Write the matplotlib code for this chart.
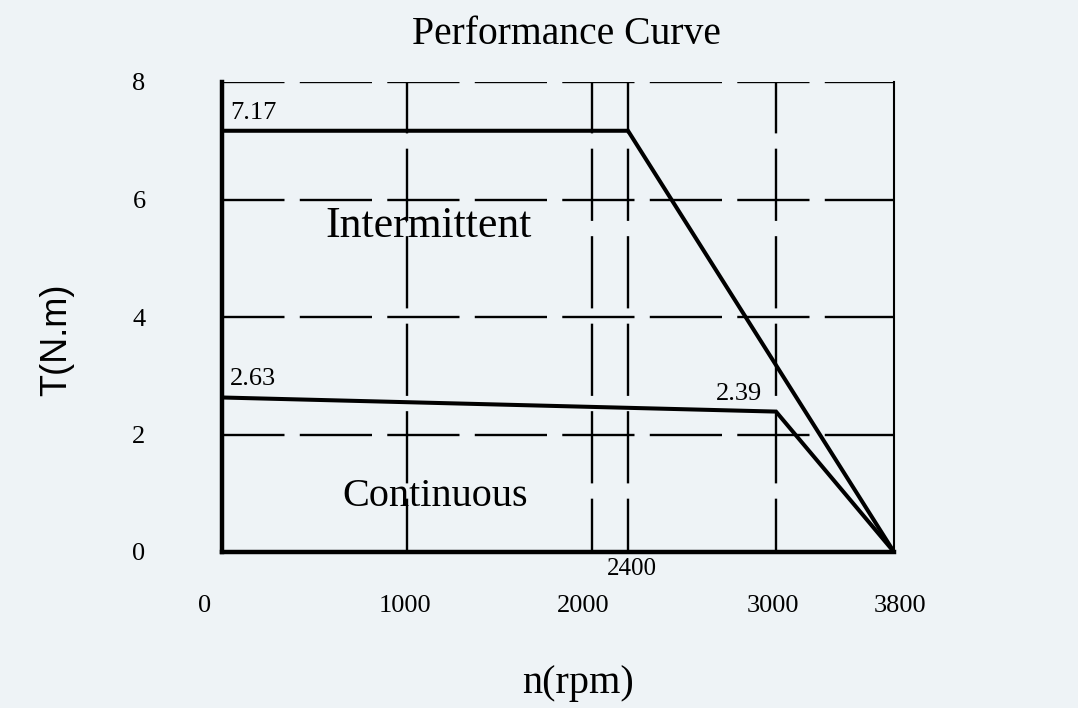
import numpy as np
import matplotlib
matplotlib.use('Agg')
import matplotlib.pyplot as plt

# --- data ---
inter_rpm = [0, 2400, 3800]
inter_torque = [7.17, 7.17, 0]
cont_rpm = [0, 3000, 3800]
cont_torque = [2.63, 2.39, 0]

grid_rpm = [1000, 2000, 2400, 3000]
grid_torque = [2, 4, 6, 8]
y_ticks = [0, 2, 4, 6, 8]
x_labels = [0, 1000, 2000, 3000, 3800]

# the drawing's rpm axis is schematic (not linear): grid spacing in px
knot_rpm = [0, 1000, 2000, 2400, 3000, 3800]
knot_px = [0, 185, 370, 406, 554, 672]

def fwd(x):
    return np.interp(x, knot_rpm, knot_px)

def inv(p):
    return np.interp(p, knot_px, knot_rpm)

BG = '#eef3f6'
SERIF = 'Liberation Serif'
plt.rcParams['lines.scale_dashes'] = False

fig = plt.figure(figsize=(10.78, 7.08), dpi=100, facecolor=BG)
ax = fig.add_axes([222/1078, 1 - 552/708, 672/1078, 470/708], facecolor=BG)
ax.set_xscale('function', functions=(fwd, inv))
ax.set_xlim(0, 3800)
ax.set_ylim(0, 8)

# dashed grid
for y in grid_torque:
    ax.plot([0, 3800], [y, y], color='k', lw=1.7,
            linestyle=(7, (52, 11)), zorder=1)
for x in grid_rpm:
    ax.plot([x, x], [8, 0], color='k', lw=1.7,
            linestyle=(15, (52, 11)), zorder=1)

# curves
ax.plot(inter_rpm, inter_torque, color='k', lw=2.9, zorder=3,
        solid_joinstyle='miter')
ax.plot(cont_rpm, cont_torque, color='k', lw=2.9, zorder=3,
        solid_joinstyle='miter')

# spines
ax.spines['top'].set_visible(False)
ax.spines['left'].set_linewidth(3.2)
ax.spines['bottom'].set_linewidth(3.2)
ax.spines['right'].set_linewidth(1.5)
for s in ax.spines.values():
    s.set_zorder(4)

ax.set_xticks([])
ax.set_yticks(y_ticks)
ax.set_yticklabels([str(v) for v in y_ticks], family=SERIF, fontsize=19)
ax.tick_params(axis='y', length=0, pad=55)

# x labels drawn under the axis with the drawing's nudges
x_nudge = [-17, -2, -9, -3, 6]
for v, dx in zip(x_labels, x_nudge):
    ax.annotate(str(v), xy=(v, 0), xytext=(dx, -54), textcoords='offset pixels',
                ha='center', va='center', family=SERIF, fontsize=19,
                annotation_clip=False)
ax.annotate('2400', xy=(2400, 0), xytext=(4, -17), textcoords='offset pixels',
            ha='center', va='center', family=SERIF, fontsize=18,
            annotation_clip=False)

# value labels
ax.annotate(f'{inter_torque[0]:.2f}', xy=(0, inter_torque[0]), xytext=(8, 18),
            textcoords='offset pixels', ha='left', va='center',
            family=SERIF, fontsize=19)
ax.annotate(f'{cont_torque[0]:.2f}', xy=(0, cont_torque[0]), xytext=(8, 18),
            textcoords='offset pixels', ha='left', va='center',
            family=SERIF, fontsize=19)
ax.annotate(f'{cont_torque[1]:.2f}', xy=(3000, cont_torque[1]), xytext=(-14, 18),
            textcoords='offset pixels', ha='right', va='center',
            family=SERIF, fontsize=19)

ax.text(1115, 5.55, 'Intermittent', ha='center', va='center',
        family=SERIF, fontsize=31.5)
ax.text(1150, 0.95, 'Continuous', ha='center', va='center',
        family=SERIF, fontsize=29)

fig.text(566/1078, 1 - 34/708, 'Performance Curve', ha='center', va='center',
         family=SERIF, fontsize=28.5)
fig.text(578/1078, 1 - 683/708, 'n(rpm)', ha='center', va='center',
         family=SERIF, fontsize=29)
fig.text(57/1078, 1 - 340/708, 'T(N.m)', ha='center', va='center',
         rotation=90, family='Liberation Sans', fontsize=26)

fig.savefig('out.png', dpi=100, facecolor=BG)
